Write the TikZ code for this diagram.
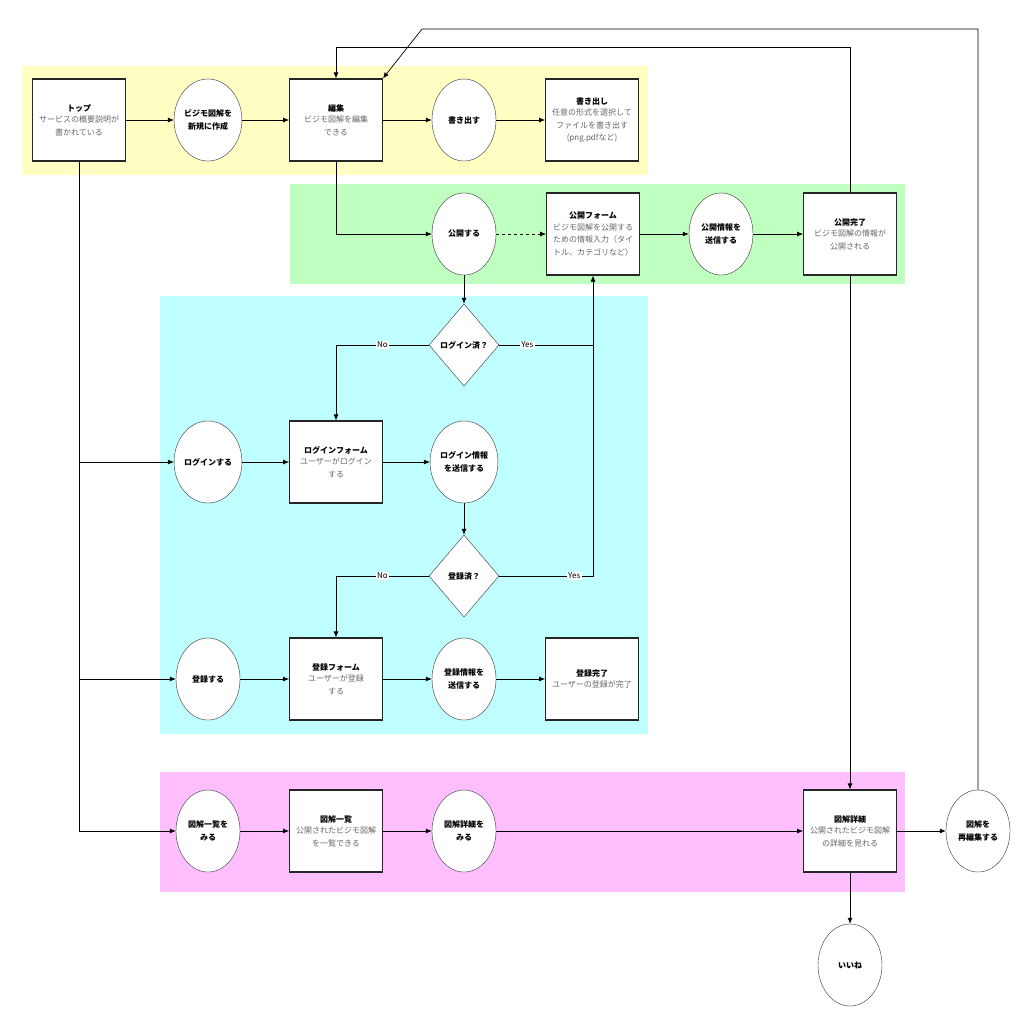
\documentclass[tikz,border=0pt]{standalone}
\usepackage{fontspec}
\setmainfont{Noto Sans CJK JP}
\usetikzlibrary{shapes.geometric,arrows.meta}

\definecolor{bandyellow}{HTML}{FFFFC4}
\definecolor{bandgreen}{HTML}{BFFFBF}
\definecolor{bandcyan}{HTML}{BFFFFF}
\definecolor{bandpink}{HTML}{FFBFFF}

\tikzset{
  box/.style={draw=black!85, line width=1.2pt, fill=white, minimum width=90pt, minimum height=82pt, align=center, text width=86pt, font=\fontsize{8}{12.5}\selectfont},
  proc/.style={draw=black!80, fill=white, ellipse, minimum width=64pt, minimum height=82pt, inner sep=0pt, align=center, font=\fontsize{8}{12.5}\selectfont\bfseries},
  check/.style={draw=black!80, fill=white, diamond, minimum width=70pt, minimum height=82pt, inner sep=0pt, aspect=0.85, font=\fontsize{8}{12.5}\selectfont\bfseries},
  flow/.style={-{Latex[length=6pt,width=5pt]}, line width=0.7pt},
  lbl/.style={fill=white, inner sep=1.5pt, font=\fontsize{8}{9}\selectfont},
}
\newcommand{\boxtext}[2]{\textbf{#1}\\[-1pt]\textcolor{black!60}{#2}}

\begin{document}
\begin{tikzpicture}[x=1pt,y=-1pt]
    \useasboundingbox (0,0) rectangle (1034,1034);

    % Bands
    \fill[bandyellow] (22,66) rectangle (648,175);
    \fill[bandgreen] (290,184) rectangle (905,284);
    \fill[bandcyan] (160,296) rectangle (648,734);
    \fill[bandpink] (160,772) rectangle (905,892);

    % Define nodes
    \node[box]   (top)       at (79,120)  {\boxtext{トップ}{サービスの概要説明が\\書かれている}};
    \node[proc]  (new)       at (208,120) {ビジモ図解を\\新規に作成};
    \node[box]   (edit)      at (336,120) {\boxtext{編集}{ビジモ図解を編集\\できる}};
    \node[proc]  (write)     at (464,120) {書き出す};
    \node[box]   (export)    at (592,120) {\boxtext{書き出し}{任意の形式を選択して\\ファイルを書き出す\\(png.pdfなど)}};
    \node[proc]  (publish)   at (464,234) {公開する};
    \node[box]   (pubform)   at (593,234) {\boxtext{公開フォーム}{ビジモ図解を公開する\\ための情報入力（タイ\\トル、カテゴリなど）}};
    \node[proc]  (sendpub)   at (721,234) {公開情報を\\送信する};
    \node[box]   (pubdone)   at (850,234) {\boxtext{公開完了}{ビジモ図解の情報が\\公開される}};
    \node[check] (loginok)   at (464,345) {ログイン済？};
    \node[proc]  (login)     at (208,462) {ログインする};
    \node[box]   (loginform) at (336,462) {\boxtext{ログインフォーム}{ユーザーがログイン\\する}};
    \node[proc]  (sendlogin) at (464,462) {ログイン情報\\を送信する};
    \node[check] (regok)     at (464,576) {登録済？};
    \node[proc]  (register)  at (208,679) {登録する};
    \node[box]   (regform)   at (336,679) {\boxtext{登録フォーム}{ユーザーが登録\\する}};
    \node[proc]  (sendreg)   at (464,679) {登録情報を\\送信する};
    \node[box]   (regdone)   at (592,679) {\boxtext{登録完了}{ユーザーの登録が完了}};
    \node[proc]  (seelist)   at (208,831) {図解一覧を\\みる};
    \node[box]   (list)      at (336,831) {\boxtext{図解一覧}{公開されたビジモ図解\\を一覧できる}};
    \node[proc]  (seedetail) at (464,831) {図解詳細を\\みる};
    \node[box]   (detail)    at (850,831) {\boxtext{図解詳細}{公開されたビジモ図解\\の詳細を見れる}};
    \node[proc]  (reedit)    at (978,831) {図解を\\再編集する};
    \node[proc]  (like)      at (850,965) {いいね};

    \coordinate (yesjoin) at (593,345);
    \coordinate (backtop) at (850,47);
    \coordinate (reedittop) at (978,29);
    \coordinate (reeditbend) at (422,29);

    % Connect the nodes
    \draw[flow] (top) -- (new);
    \draw[flow] (new) -- (edit);
    \draw[flow] (edit) -- (write);
    \draw[flow] (write) -- (export);
    \draw[flow] (edit.south) |- (publish.west);
    \draw[flow, dashed] (publish) -- (pubform);
    \draw[flow] (pubform) -- (sendpub);
    \draw[flow] (sendpub) -- (pubdone);
    \draw[flow] (pubdone.north) -- (backtop) -| (edit.north);
    \draw[flow] (reedit.north) -- (reedittop) -- (reeditbend) -- (edit.north east);
    \draw[flow] (publish) -- (loginok);
    \draw[flow] (loginok.west) -| node[lbl, pos=0.25] {No} (loginform.north);
    \draw[flow] (loginok.east) -- node[lbl, pos=0.3] {Yes} (yesjoin) -- (pubform.south);
    \draw[flow] (top.south) |- (seelist.west);
    \draw[flow] (top.south |- login.west) -- (login.west);
    \draw[flow] (top.south |- register.west) -- (register.west);
    \draw[flow] (login) -- (loginform);
    \draw[flow] (loginform) -- (sendlogin);
    \draw[flow] (sendlogin) -- (regok);
    \draw[flow] (regok.west) -| node[lbl, pos=0.25] {No} (regform.north);
    \draw[line width=0.7pt] (regok.east) -| node[lbl, pos=0.4] {Yes} (yesjoin);
    \draw[flow] (register) -- (regform);
    \draw[flow] (regform) -- (sendreg);
    \draw[flow] (sendreg) -- (regdone);
    \draw[flow] (seelist) -- (list);
    \draw[flow] (list) -- (seedetail);
    \draw[flow] (seedetail) -- (detail);
    \draw[flow] (detail) -- (reedit);
    \draw[flow] (pubdone) -- (detail);
    \draw[flow] (detail) -- (like);

\end{tikzpicture}
\end{document}
